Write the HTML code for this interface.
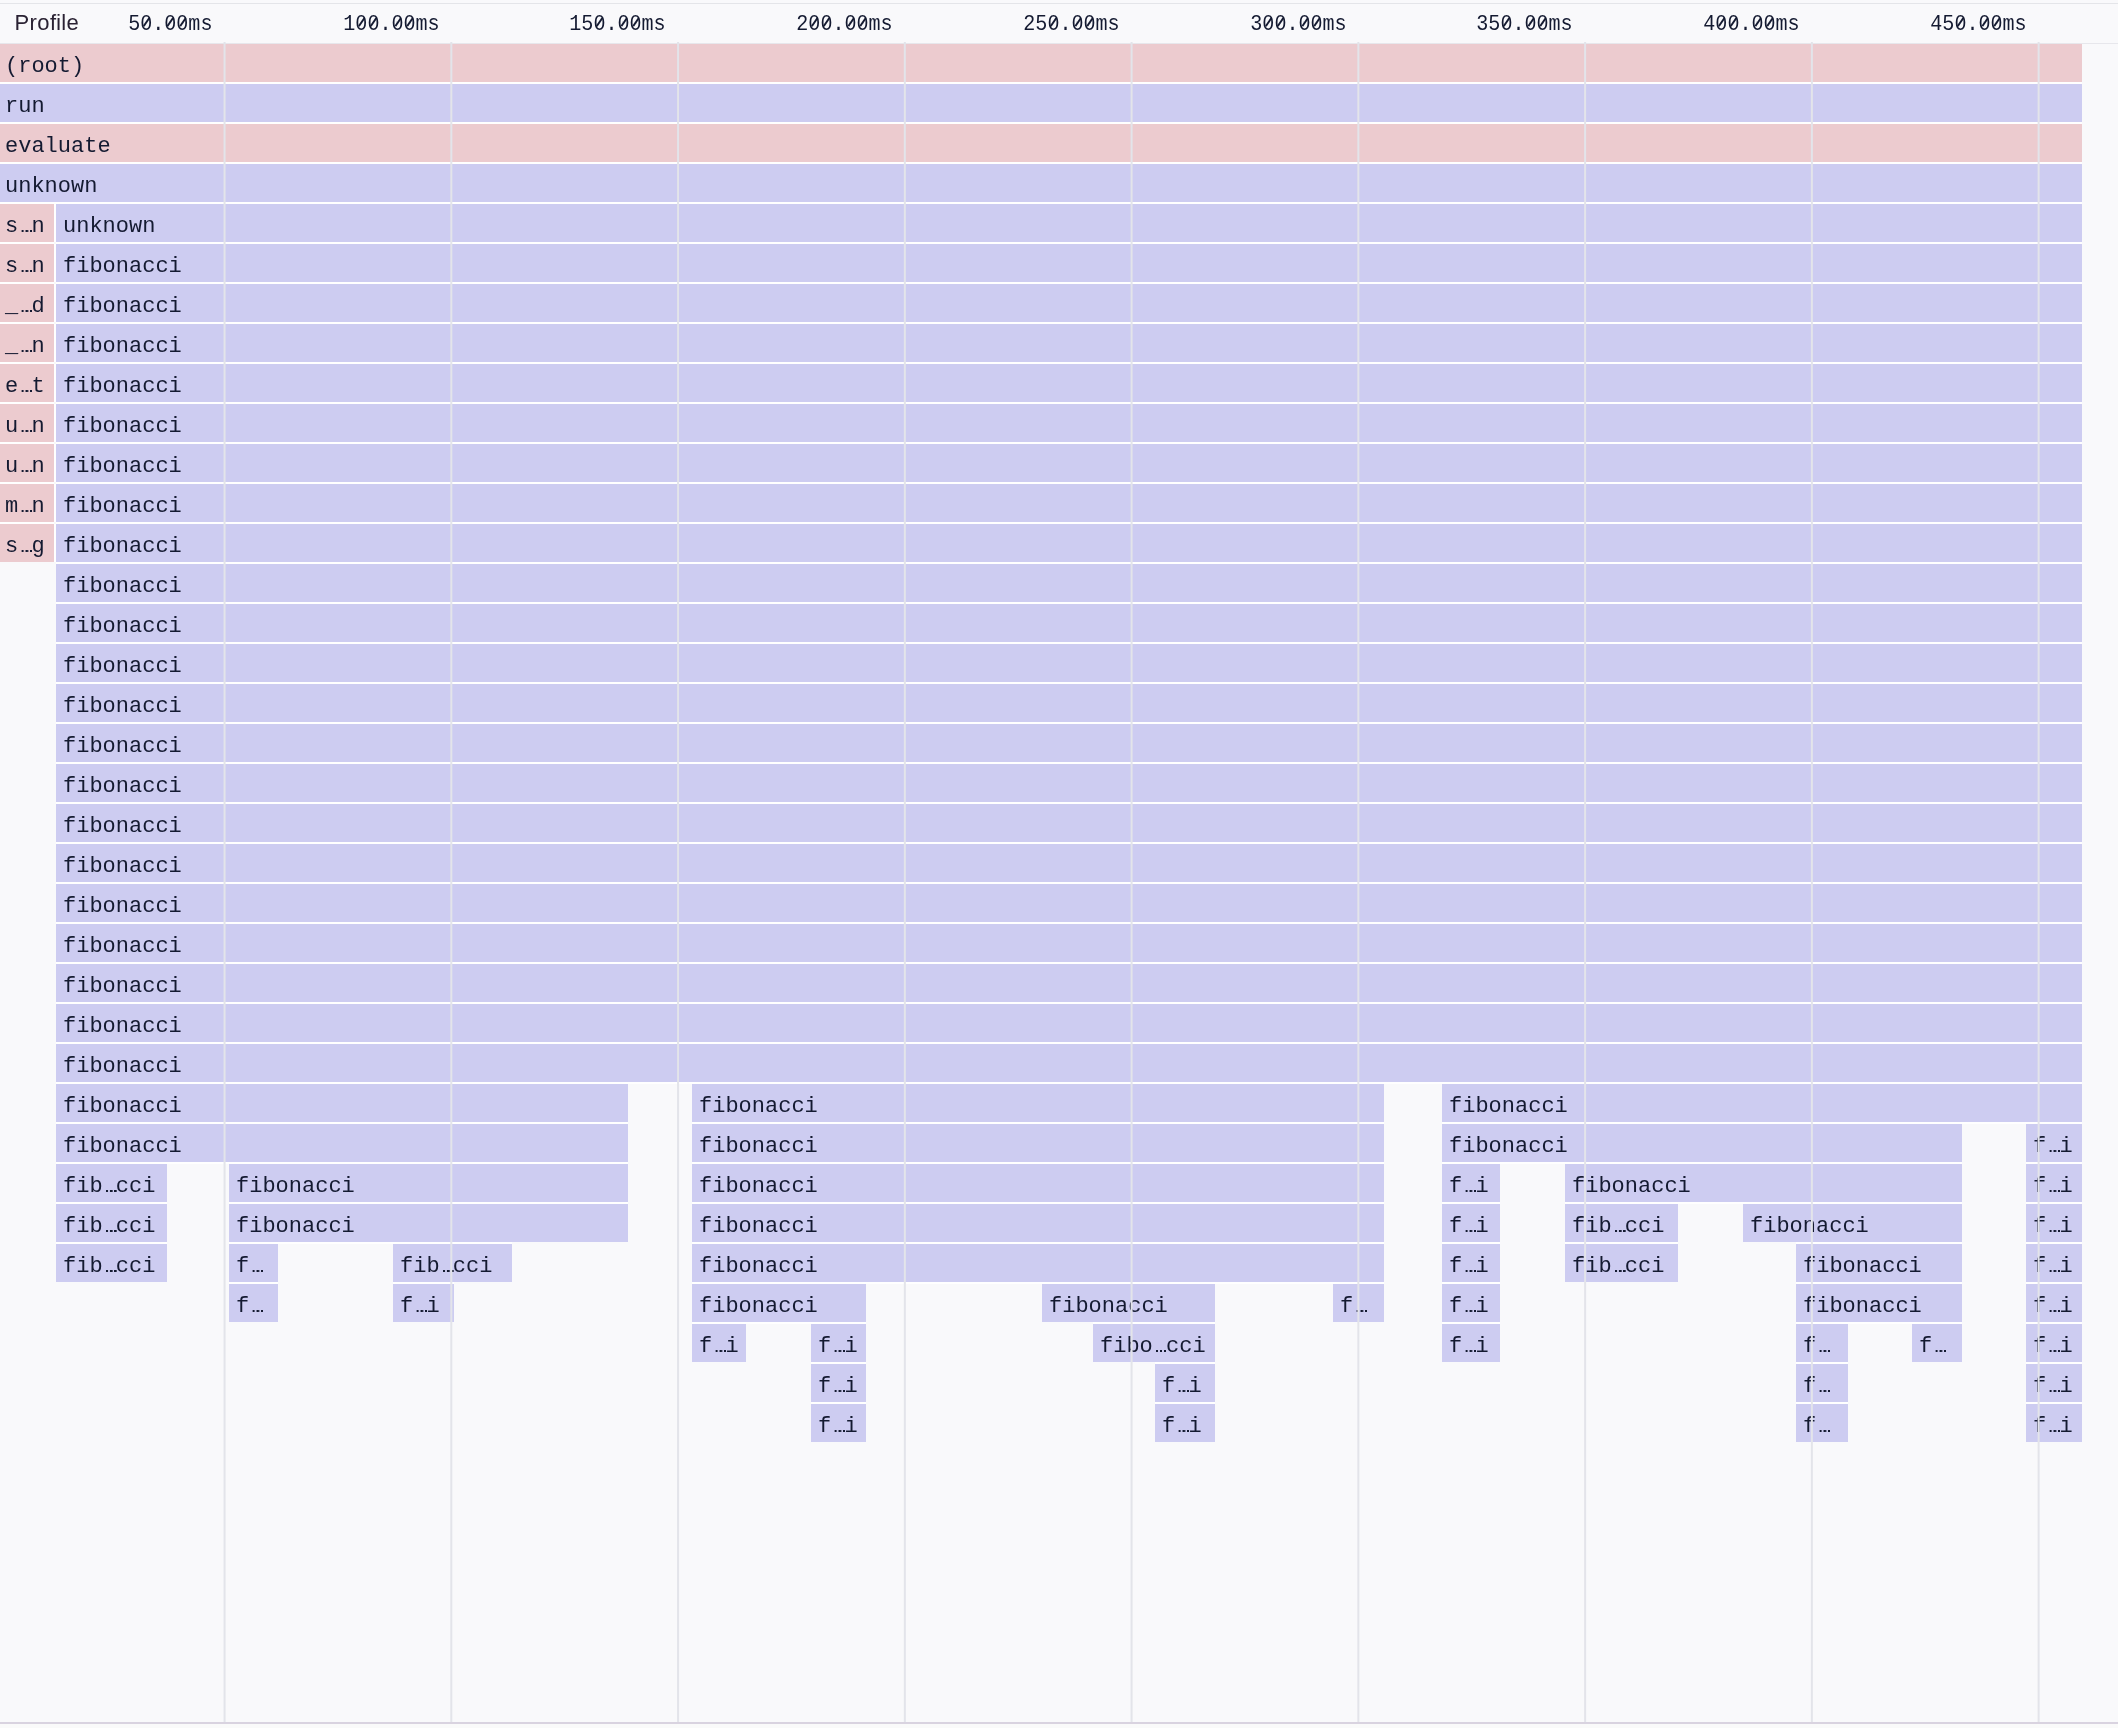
<!DOCTYPE html>
<html><head><meta charset="utf-8"><style>
*{margin:0;padding:0;box-sizing:border-box}
html,body{width:2118px;height:1728px;overflow:hidden;background:#f9f9fb}
body{position:relative;font-family:"Liberation Mono",monospace;color:#141a31}
.topline{position:absolute;left:0;top:3px;width:2118px;height:1px;background:#e4e5e9}
.hdrline{position:absolute;left:0;top:43px;width:2118px;height:1px;background:#e7e7ec}
.prof{position:absolute;left:15px;top:0;height:44px;line-height:44px;font-family:"Liberation Sans",sans-serif;font-size:22px;top:1px;left:14.5px;color:#2a2233;letter-spacing:0.4px}
.t{position:absolute;top:3px;height:44px;line-height:44px;font-size:22px;white-space:nowrap;transform:scaleX(0.9120);transform-origin:100% 0}
.b{position:absolute;height:38px;overflow:hidden;white-space:nowrap}
.w{position:absolute;height:2px;background:#fff}
.b span{position:absolute;left:7px;top:3px;font-size:22.5px;line-height:38px;transform:scaleX(0.9776);transform-origin:0 0}
.z{font-style:normal;position:relative}
.z::before{content:"";position:absolute;left:5px;top:9.3px;width:3.4px;height:3.4px;background:#f9f9fb}
.z::after{content:"";position:absolute;left:5.8px;top:4.85px;width:1.9px;height:10.4px;background:#141a31;transform:rotate(37.2deg)}
.b b{display:inline-block;width:15.502px;margin-right:-2px;height:4px;vertical-align:baseline;position:relative;top:0.8px;background:radial-gradient(circle at 4.15px 50%,#141a31 1.2px,transparent 1.45px),radial-gradient(circle at 8.350000000000001px 50%,#141a31 1.2px,transparent 1.45px),radial-gradient(circle at 12.55px 50%,#141a31 1.2px,transparent 1.45px)}
.p{background:#eccbcf}
.l{background:#cdccf1}
svg.g{position:absolute;left:0;top:0}
.lay{position:absolute;left:0;top:0;width:2118px;height:1728px;will-change:transform}
.bot{position:absolute;left:0;top:1722px;width:2118px;height:2px;background:#d9d3e0}
.below{position:absolute;left:0;top:1724px;width:2118px;height:4px;background:#fafafa}
</style></head><body>
<div class="topline"></div>
<div class="lay"><div class="prof">Pro&#xFB01;le</div>
<div class="t" style="right:1905.5px">5<i class="z">0</i>.<i class="z">0</i><i class="z">0</i>ms</div><div class="t" style="right:1678.7px">1<i class="z">0</i><i class="z">0</i>.<i class="z">0</i><i class="z">0</i>ms</div><div class="t" style="right:1451.9px">15<i class="z">0</i>.<i class="z">0</i><i class="z">0</i>ms</div><div class="t" style="right:1225.2px">2<i class="z">0</i><i class="z">0</i>.<i class="z">0</i><i class="z">0</i>ms</div><div class="t" style="right:998.4px">25<i class="z">0</i>.<i class="z">0</i><i class="z">0</i>ms</div><div class="t" style="right:771.7px">3<i class="z">0</i><i class="z">0</i>.<i class="z">0</i><i class="z">0</i>ms</div><div class="t" style="right:544.9px">35<i class="z">0</i>.<i class="z">0</i><i class="z">0</i>ms</div><div class="t" style="right:318.1px">4<i class="z">0</i><i class="z">0</i>.<i class="z">0</i><i class="z">0</i>ms</div><div class="t" style="right:91.4px">45<i class="z">0</i>.<i class="z">0</i><i class="z">0</i>ms</div>
<i class="w" style="left:-2px;top:82px;width:2084px"></i><i class="w" style="left:-2px;top:122px;width:2084px"></i><i class="w" style="left:-2px;top:162px;width:2084px"></i><i class="w" style="left:-2px;top:202px;width:2084px"></i><i class="w" style="left:54px;top:204px;width:2px;height:38px"></i><i class="w" style="left:-2px;top:242px;width:56px"></i><i class="w" style="left:56px;top:242px;width:2026px"></i><i class="w" style="left:54px;top:244px;width:2px;height:38px"></i><i class="w" style="left:-2px;top:282px;width:56px"></i><i class="w" style="left:56px;top:282px;width:2026px"></i><i class="w" style="left:54px;top:284px;width:2px;height:38px"></i><i class="w" style="left:-2px;top:322px;width:56px"></i><i class="w" style="left:56px;top:322px;width:2026px"></i><i class="w" style="left:54px;top:324px;width:2px;height:38px"></i><i class="w" style="left:-2px;top:362px;width:56px"></i><i class="w" style="left:56px;top:362px;width:2026px"></i><i class="w" style="left:54px;top:364px;width:2px;height:38px"></i><i class="w" style="left:-2px;top:402px;width:56px"></i><i class="w" style="left:56px;top:402px;width:2026px"></i><i class="w" style="left:54px;top:404px;width:2px;height:38px"></i><i class="w" style="left:-2px;top:442px;width:56px"></i><i class="w" style="left:56px;top:442px;width:2026px"></i><i class="w" style="left:54px;top:444px;width:2px;height:38px"></i><i class="w" style="left:-2px;top:482px;width:56px"></i><i class="w" style="left:56px;top:482px;width:2026px"></i><i class="w" style="left:54px;top:484px;width:2px;height:38px"></i><i class="w" style="left:-2px;top:522px;width:56px"></i><i class="w" style="left:56px;top:522px;width:2026px"></i><i class="w" style="left:54px;top:524px;width:2px;height:38px"></i><i class="w" style="left:56px;top:562px;width:2026px"></i><i class="w" style="left:56px;top:602px;width:2026px"></i><i class="w" style="left:56px;top:642px;width:2026px"></i><i class="w" style="left:56px;top:682px;width:2026px"></i><i class="w" style="left:56px;top:722px;width:2026px"></i><i class="w" style="left:56px;top:762px;width:2026px"></i><i class="w" style="left:56px;top:802px;width:2026px"></i><i class="w" style="left:56px;top:842px;width:2026px"></i><i class="w" style="left:56px;top:882px;width:2026px"></i><i class="w" style="left:56px;top:922px;width:2026px"></i><i class="w" style="left:56px;top:962px;width:2026px"></i><i class="w" style="left:56px;top:1002px;width:2026px"></i><i class="w" style="left:56px;top:1042px;width:2026px"></i><i class="w" style="left:56px;top:1082px;width:2026px"></i><i class="w" style="left:56px;top:1122px;width:572px"></i><i class="w" style="left:692px;top:1122px;width:692px"></i><i class="w" style="left:1442px;top:1122px;width:640px"></i><i class="w" style="left:56px;top:1162px;width:572px"></i><i class="w" style="left:692px;top:1162px;width:692px"></i><i class="w" style="left:1442px;top:1162px;width:520px"></i><i class="w" style="left:2026px;top:1162px;width:56px"></i><i class="w" style="left:56px;top:1202px;width:111px"></i><i class="w" style="left:229px;top:1202px;width:399px"></i><i class="w" style="left:692px;top:1202px;width:692px"></i><i class="w" style="left:1442px;top:1202px;width:58px"></i><i class="w" style="left:1565px;top:1202px;width:397px"></i><i class="w" style="left:2026px;top:1202px;width:56px"></i><i class="w" style="left:56px;top:1242px;width:111px"></i><i class="w" style="left:229px;top:1242px;width:283px"></i><i class="w" style="left:692px;top:1242px;width:692px"></i><i class="w" style="left:1442px;top:1242px;width:58px"></i><i class="w" style="left:1565px;top:1242px;width:113px"></i><i class="w" style="left:1796px;top:1242px;width:166px"></i><i class="w" style="left:2026px;top:1242px;width:56px"></i><i class="w" style="left:229px;top:1282px;width:49px"></i><i class="w" style="left:393px;top:1282px;width:61px"></i><i class="w" style="left:692px;top:1282px;width:692px"></i><i class="w" style="left:1442px;top:1282px;width:58px"></i><i class="w" style="left:1796px;top:1282px;width:166px"></i><i class="w" style="left:2026px;top:1282px;width:56px"></i><i class="w" style="left:692px;top:1322px;width:174px"></i><i class="w" style="left:1093px;top:1322px;width:122px"></i><i class="w" style="left:1442px;top:1322px;width:58px"></i><i class="w" style="left:1796px;top:1322px;width:166px"></i><i class="w" style="left:2026px;top:1322px;width:56px"></i><i class="w" style="left:811px;top:1362px;width:55px"></i><i class="w" style="left:1155px;top:1362px;width:60px"></i><i class="w" style="left:1796px;top:1362px;width:52px"></i><i class="w" style="left:2026px;top:1362px;width:56px"></i><i class="w" style="left:811px;top:1402px;width:55px"></i><i class="w" style="left:1155px;top:1402px;width:60px"></i><i class="w" style="left:1796px;top:1402px;width:52px"></i><i class="w" style="left:2026px;top:1402px;width:56px"></i><div class="b p" style="left:-2px;top:44px;width:2084px"><span>(root)</span></div><div class="b l" style="left:-2px;top:84px;width:2084px"><span>run</span></div><div class="b p" style="left:-2px;top:124px;width:2084px"><span>evaluate</span></div><div class="b l" style="left:-2px;top:164px;width:2084px"><span>unknown</span></div><div class="b p" style="left:-2px;top:204px;width:56px"><span>s<b></b>n</span></div><div class="b l" style="left:56px;top:204px;width:2026px"><span>unknown</span></div><div class="b p" style="left:-2px;top:244px;width:56px"><span>s<b></b>n</span></div><div class="b l" style="left:56px;top:244px;width:2026px"><span>fibonacci</span></div><div class="b p" style="left:-2px;top:284px;width:56px"><span>_<b></b>d</span></div><div class="b l" style="left:56px;top:284px;width:2026px"><span>fibonacci</span></div><div class="b p" style="left:-2px;top:324px;width:56px"><span>_<b></b>n</span></div><div class="b l" style="left:56px;top:324px;width:2026px"><span>fibonacci</span></div><div class="b p" style="left:-2px;top:364px;width:56px"><span>e<b></b>t</span></div><div class="b l" style="left:56px;top:364px;width:2026px"><span>fibonacci</span></div><div class="b p" style="left:-2px;top:404px;width:56px"><span>u<b></b>n</span></div><div class="b l" style="left:56px;top:404px;width:2026px"><span>fibonacci</span></div><div class="b p" style="left:-2px;top:444px;width:56px"><span>u<b></b>n</span></div><div class="b l" style="left:56px;top:444px;width:2026px"><span>fibonacci</span></div><div class="b p" style="left:-2px;top:484px;width:56px"><span>m<b></b>n</span></div><div class="b l" style="left:56px;top:484px;width:2026px"><span>fibonacci</span></div><div class="b p" style="left:-2px;top:524px;width:56px"><span>s<b></b>g</span></div><div class="b l" style="left:56px;top:524px;width:2026px"><span>fibonacci</span></div><div class="b l" style="left:56px;top:564px;width:2026px"><span>fibonacci</span></div><div class="b l" style="left:56px;top:604px;width:2026px"><span>fibonacci</span></div><div class="b l" style="left:56px;top:644px;width:2026px"><span>fibonacci</span></div><div class="b l" style="left:56px;top:684px;width:2026px"><span>fibonacci</span></div><div class="b l" style="left:56px;top:724px;width:2026px"><span>fibonacci</span></div><div class="b l" style="left:56px;top:764px;width:2026px"><span>fibonacci</span></div><div class="b l" style="left:56px;top:804px;width:2026px"><span>fibonacci</span></div><div class="b l" style="left:56px;top:844px;width:2026px"><span>fibonacci</span></div><div class="b l" style="left:56px;top:884px;width:2026px"><span>fibonacci</span></div><div class="b l" style="left:56px;top:924px;width:2026px"><span>fibonacci</span></div><div class="b l" style="left:56px;top:964px;width:2026px"><span>fibonacci</span></div><div class="b l" style="left:56px;top:1004px;width:2026px"><span>fibonacci</span></div><div class="b l" style="left:56px;top:1044px;width:2026px"><span>fibonacci</span></div><div class="b l" style="left:56px;top:1084px;width:572px"><span>fibonacci</span></div><div class="b l" style="left:692px;top:1084px;width:692px"><span>fibonacci</span></div><div class="b l" style="left:1442px;top:1084px;width:640px"><span>fibonacci</span></div><div class="b l" style="left:56px;top:1124px;width:572px"><span>fibonacci</span></div><div class="b l" style="left:692px;top:1124px;width:692px"><span>fibonacci</span></div><div class="b l" style="left:1442px;top:1124px;width:520px"><span>fibonacci</span></div><div class="b l" style="left:2026px;top:1124px;width:56px"><span>f<b></b>i</span></div><div class="b l" style="left:56px;top:1164px;width:111px"><span>fib<b></b>cci</span></div><div class="b l" style="left:229px;top:1164px;width:399px"><span>fibonacci</span></div><div class="b l" style="left:692px;top:1164px;width:692px"><span>fibonacci</span></div><div class="b l" style="left:1442px;top:1164px;width:58px"><span>f<b></b>i</span></div><div class="b l" style="left:1565px;top:1164px;width:397px"><span>fibonacci</span></div><div class="b l" style="left:2026px;top:1164px;width:56px"><span>f<b></b>i</span></div><div class="b l" style="left:56px;top:1204px;width:111px"><span>fib<b></b>cci</span></div><div class="b l" style="left:229px;top:1204px;width:399px"><span>fibonacci</span></div><div class="b l" style="left:692px;top:1204px;width:692px"><span>fibonacci</span></div><div class="b l" style="left:1442px;top:1204px;width:58px"><span>f<b></b>i</span></div><div class="b l" style="left:1565px;top:1204px;width:113px"><span>fib<b></b>cci</span></div><div class="b l" style="left:1743px;top:1204px;width:219px"><span>fibonacci</span></div><div class="b l" style="left:2026px;top:1204px;width:56px"><span>f<b></b>i</span></div><div class="b l" style="left:56px;top:1244px;width:111px"><span>fib<b></b>cci</span></div><div class="b l" style="left:229px;top:1244px;width:49px"><span>f<b></b></span></div><div class="b l" style="left:393px;top:1244px;width:119px"><span>fib<b></b>cci</span></div><div class="b l" style="left:692px;top:1244px;width:692px"><span>fibonacci</span></div><div class="b l" style="left:1442px;top:1244px;width:58px"><span>f<b></b>i</span></div><div class="b l" style="left:1565px;top:1244px;width:113px"><span>fib<b></b>cci</span></div><div class="b l" style="left:1796px;top:1244px;width:166px"><span>fibonacci</span></div><div class="b l" style="left:2026px;top:1244px;width:56px"><span>f<b></b>i</span></div><div class="b l" style="left:229px;top:1284px;width:49px"><span>f<b></b></span></div><div class="b l" style="left:393px;top:1284px;width:61px"><span>f<b></b>i</span></div><div class="b l" style="left:692px;top:1284px;width:174px"><span>fibonacci</span></div><div class="b l" style="left:1042px;top:1284px;width:173px"><span>fibonacci</span></div><div class="b l" style="left:1333px;top:1284px;width:51px"><span>f<b></b></span></div><div class="b l" style="left:1442px;top:1284px;width:58px"><span>f<b></b>i</span></div><div class="b l" style="left:1796px;top:1284px;width:166px"><span>fibonacci</span></div><div class="b l" style="left:2026px;top:1284px;width:56px"><span>f<b></b>i</span></div><div class="b l" style="left:692px;top:1324px;width:54px"><span>f<b></b>i</span></div><div class="b l" style="left:811px;top:1324px;width:55px"><span>f<b></b>i</span></div><div class="b l" style="left:1093px;top:1324px;width:122px"><span>fibo<b></b>cci</span></div><div class="b l" style="left:1442px;top:1324px;width:58px"><span>f<b></b>i</span></div><div class="b l" style="left:1796px;top:1324px;width:52px"><span>f<b></b></span></div><div class="b l" style="left:1912px;top:1324px;width:50px"><span>f<b></b></span></div><div class="b l" style="left:2026px;top:1324px;width:56px"><span>f<b></b>i</span></div><div class="b l" style="left:811px;top:1364px;width:55px"><span>f<b></b>i</span></div><div class="b l" style="left:1155px;top:1364px;width:60px"><span>f<b></b>i</span></div><div class="b l" style="left:1796px;top:1364px;width:52px"><span>f<b></b></span></div><div class="b l" style="left:2026px;top:1364px;width:56px"><span>f<b></b>i</span></div><div class="b l" style="left:811px;top:1404px;width:55px"><span>f<b></b>i</span></div><div class="b l" style="left:1155px;top:1404px;width:60px"><span>f<b></b>i</span></div><div class="b l" style="left:1796px;top:1404px;width:52px"><span>f<b></b></span></div><div class="b l" style="left:2026px;top:1404px;width:56px"><span>f<b></b>i</span></div></div>
<div class="hdrline"></div>
<svg class="g" width="2118" height="1728" fill="#e3e4ea"><rect x="223.55" y="42" width="2" height="1680"/><rect x="450.31" y="42" width="2" height="1680"/><rect x="677.07" y="42" width="2" height="1680"/><rect x="903.83" y="42" width="2" height="1680"/><rect x="1130.59" y="42" width="2" height="1680"/><rect x="1357.35" y="42" width="2" height="1680"/><rect x="1584.11" y="42" width="2" height="1680"/><rect x="1810.87" y="42" width="2" height="1680"/><rect x="2037.63" y="42" width="2" height="1680"/></svg>
<div class="bot"></div><div class="below"></div>
</body></html>
